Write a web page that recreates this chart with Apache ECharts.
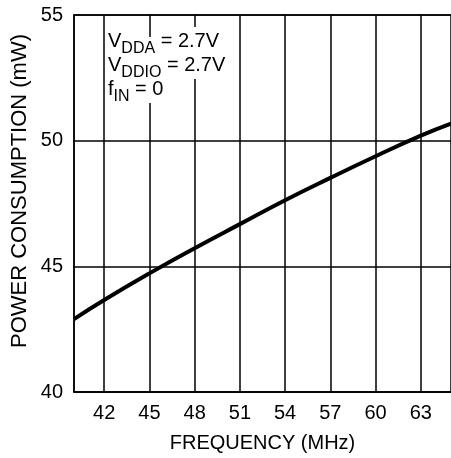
<!DOCTYPE html>
<html><head><meta charset="utf-8">
<script src="https://cdn.jsdelivr.net/npm/echarts@6/dist/echarts.min.js"></script>
<style>html,body{margin:0;padding:0;background:#fff}#c{width:451px;height:458px}</style>
</head><body><div id="c"></div>
<script>
var freq = [40, 42, 45, 48, 51, 54, 57, 60, 63, 65];
var power = [42.9, 43.66, 44.72, 45.72, 46.68, 47.63, 48.52, 49.38, 50.2, 50.68];
var xTicks = [42, 45, 48, 51, 54, 57, 60, 63];
var yTicks = [40, 45, 50, 55];
var noteLines = [
  [['V', 0], ['DDA', 1], [' = 2.7V', 0]],
  [['V', 0], ['DDIO', 1], [' = 2.7V', 0]],
  [['f', 0], ['IN', 1], [' = 0', 0]]
];
var FONT = '"Liberation Sans", Arial, sans-serif';
var MAIN = 20, SUB = 16;
var cv = document.createElement('canvas').getContext('2d');
function tw(t, s){ cv.font = s + 'px ' + FONT; return cv.measureText(t).width; }

var graphics = [];
noteLines.forEach(function(line, li){
  var x = 108;
  var base = 46 + li * 24;
  line.forEach(function(p){
    var s = p[1] ? SUB : MAIN;
    var top = (p[1] ? base - 5 : base - 15);
    graphics.push({type:'text', left:x, top:top - 4, z:9,
      style:{text:p[0], fontFamily:FONT, fontSize:s, fill:'rgba(0,0,0,0)',
        backgroundColor:'#fff', padding:[4,0,4,0]}});
    graphics.push({type:'text', left:x, top:top, z:10,
      style:{text:p[0], fontFamily:FONT, fontSize:s, fill:'#000'}});
    x += tw(p[0], s);
  });
});
graphics.push({type:'text', x:20, y:191, rotation:Math.PI/2, z:10,
  style:{text:'POWER CONSUMPTION (mW)', fontFamily:FONT, fontSize:22, fill:'#000', align:'center', verticalAlign:'middle'}});

var chart = echarts.init(document.getElementById('c'), null, {renderer:'canvas'});
chart.setOption({
  animation:false,
  grid:{left:74, top:15, right:0, bottom:65, show:true, borderColor:'#000', borderWidth:1.5},
  xAxis:{type:'value', min:40, max:65,
    name:'FREQUENCY (MHz)', nameLocation:'middle', nameGap:41,
    nameTextStyle:{fontFamily:FONT, fontSize:20, color:'#000'},
    axisLine:{show:true, lineStyle:{color:'#000', width:1.5}},
    axisTick:{show:false},
    splitLine:{show:false},
    axisLabel:{customValues:xTicks, fontFamily:FONT, fontSize:20, color:'#000', margin:11}
  },
  yAxis:{type:'value', min:40, max:55, interval:5,
    axisLine:{show:true, lineStyle:{color:'#000', width:1.5}},
    axisTick:{show:false},
    splitLine:{show:true, lineStyle:{color:'#000', width:1.5}},
    axisLabel:{fontFamily:FONT, fontSize:20, color:'#000', margin:11}
  },
  series:[{
    type:'line', smooth:true, symbol:'none',
    data: freq.map(function(f,i){return [f, power[i]];}),
    lineStyle:{color:'#000', width:4},
    z:5,
    markLine:{silent:true, symbol:'none', label:{show:false},
      lineStyle:{color:'#000', width:1.5, type:'solid'},
      data: xTicks.map(function(v){return {xAxis:v};}), z:1}
  }],
  graphic: graphics
});
</script></body></html>
